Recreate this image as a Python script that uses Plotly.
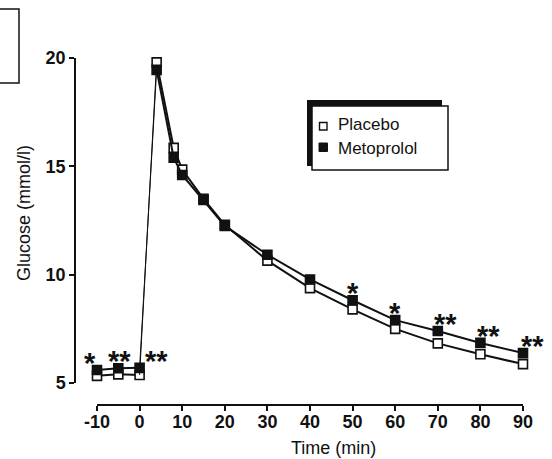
import plotly.graph_objects as go

# ---------------- data ----------------
times = [-10, -5, 0, 4, 8, 10, 15, 20, 30, 40, 50, 60, 70, 80, 90]
placebo = [5.33, 5.40, 5.37, 19.8, 15.85, 14.85, 13.5, 12.3, 10.65, 9.38, 8.4, 7.5, 6.83, 6.33, 5.87]
metoprolol = [5.6, 5.68, 5.7, 19.45, 15.4, 14.6, 13.45, 12.25, 10.92, 9.78, 8.82, 7.9, 7.4, 6.85, 6.38]

sig_times = [-10, -5, 0, 50, 60, 70, 80, 90]
sig_labels = ["*", "**", "**", "*", "*", "**", "**", "**"]

x_ticks = [-10, 0, 10, 20, 30, 40, 50, 60, 70, 80, 90]
x_tick_labels = ["-10", "0", "10", "20", "30", "40", "50", "60", "70", "80", "90"]
y_ticks = [5, 10, 15, 20]
y_tick_labels = ["5", "10", "15", "20"]

series_names = ["Placebo", "Metoprolol"]

# ---------------- geometry helpers (pixels -> paper) ----------------
W, H = 552, 459
ML, MR, MT, MB = 75, 29, 58, 54
PW, PH = W - ML - MR, H - MT - MB


def px(x):
    return (x - ML) / PW


def py(y):
    return (H - MB - y) / PH


FONT = "Liberation Sans, Arial, Helvetica, sans-serif"
BLACK = "#111111"

fig = go.Figure()

rise_idx = times.index(0)
peak_idx = rise_idx + 1


def add_series(vals, filled, name):
    mk = dict(symbol="square", size=9,
              color=BLACK if filled else "white",
              line=dict(color=BLACK, width=1.6))
    # baseline segment
    fig.add_trace(go.Scatter(x=times[:rise_idx + 1], y=vals[:rise_idx + 1],
                             mode="lines+markers", line=dict(color=BLACK, width=2),
                             marker=mk, name=name, showlegend=False, cliponaxis=False))
    # injection rise (thin)
    fig.add_trace(go.Scatter(x=times[rise_idx:peak_idx + 1], y=vals[rise_idx:peak_idx + 1],
                             mode="lines", line=dict(color=BLACK, width=1),
                             name=name, showlegend=False, cliponaxis=False))
    # decay segment
    fig.add_trace(go.Scatter(x=times[peak_idx:], y=vals[peak_idx:],
                             mode="lines+markers", line=dict(color=BLACK, width=2),
                             marker=mk, name=name, showlegend=False, cliponaxis=False))


add_series(placebo, False, series_names[0])
add_series(metoprolol, True, series_names[1])

# significance asterisks above metoprolol points
xshift_map = {-10: -7, -5: 1, 0: 17, 70: 8, 80: 8, 90: 9}
annotations = []
for t, lab in zip(sig_times, sig_labels):
    v = metoprolol[times.index(t)]
    annotations.append(dict(x=t, y=v, xref="x", yref="y", text="<b>%s</b>" % lab, showarrow=False,
                            xanchor="center", yanchor="middle",
                            xshift=xshift_map.get(t, 0), yshift=7,
                            font=dict(family=FONT, size=29, color=BLACK)))

# axis titles
annotations.append(dict(x=px(333), y=py(448), xref="paper", yref="paper",
                        text="Time (min)", showarrow=False, xanchor="center", yanchor="middle",
                        font=dict(family=FONT, size=18, color=BLACK)))
annotations.append(dict(x=px(24), y=py(213), xref="paper", yref="paper",
                        text="Glucose (mmol/l)", textangle=-90, showarrow=False,
                        xanchor="center", yanchor="middle",
                        font=dict(family=FONT, size=18, color=BLACK)))

# legend text
annotations.append(dict(x=px(336), y=py(125), xref="paper", yref="paper",
                        text=series_names[0], showarrow=False, xanchor="left", yanchor="middle",
                        font=dict(family=FONT, size=17, color=BLACK)))
annotations.append(dict(x=px(336), y=py(148), xref="paper", yref="paper",
                        text=series_names[1], showarrow=False, xanchor="left", yanchor="middle",
                        font=dict(family=FONT, size=17, color=BLACK)))

shapes = [
    # legend shadow
    dict(type="rect", xref="paper", yref="paper", x0=px(307), x1=px(442), y0=py(100), y1=py(166),
         fillcolor=BLACK, line=dict(width=0), layer="above"),
    # legend box
    dict(type="rect", xref="paper", yref="paper", x0=px(312), x1=px(448), y0=py(106), y1=py(170),
         fillcolor="white", line=dict(color=BLACK, width=1.5), layer="above"),
    # legend swatches
    dict(type="rect", xref="paper", yref="paper", x0=px(319.5), x1=px(327), y0=py(122.5), y1=py(130),
         fillcolor="white", line=dict(color=BLACK, width=1.4), layer="above"),
    dict(type="rect", xref="paper", yref="paper", x0=px(319), x1=px(327.5), y0=py(143), y1=py(151.5),
         fillcolor=BLACK, line=dict(color=BLACK, width=1), layer="above"),
    # partial frame from neighbouring panel (top-left)
    dict(type="rect", xref="paper", yref="paper", x0=px(-5), x1=px(19), y0=py(9), y1=py(83),
         fillcolor="rgba(0,0,0,0)", line=dict(color=BLACK, width=1.5), layer="above"),
]

fig.update_layout(
    width=W, height=H,
    margin=dict(l=ML, r=MR, t=MT, b=MB, pad=0),
    paper_bgcolor="white", plot_bgcolor="white",
    showlegend=False,
    xaxis=dict(domain=[px(97), 1], range=[-10, 90], anchor="free", position=0,
               tickmode="array", tickvals=x_ticks, ticktext=x_tick_labels,
               ticks="outside", ticklen=5, tickwidth=1.5, ticklabelstandoff=-4,
               tickcolor=BLACK, showline=True, linecolor=BLACK, linewidth=1.5,
               showgrid=False, zeroline=False,
               tickfont=dict(family=FONT, size=18, color=BLACK, weight="bold")),
    yaxis=dict(domain=[py(383), 1], range=[5, 20], anchor="free", position=0,
               tickmode="array", tickvals=y_ticks, ticktext=y_tick_labels,
               ticks="outside", ticklen=5, tickwidth=1.5,
               tickcolor=BLACK, showline=True, linecolor=BLACK, linewidth=1.5,
               showgrid=False, zeroline=False,
               tickfont=dict(family=FONT, size=18, color=BLACK, weight="bold")),
    annotations=annotations,
    shapes=shapes,
)

fig.write_html("out.html")
